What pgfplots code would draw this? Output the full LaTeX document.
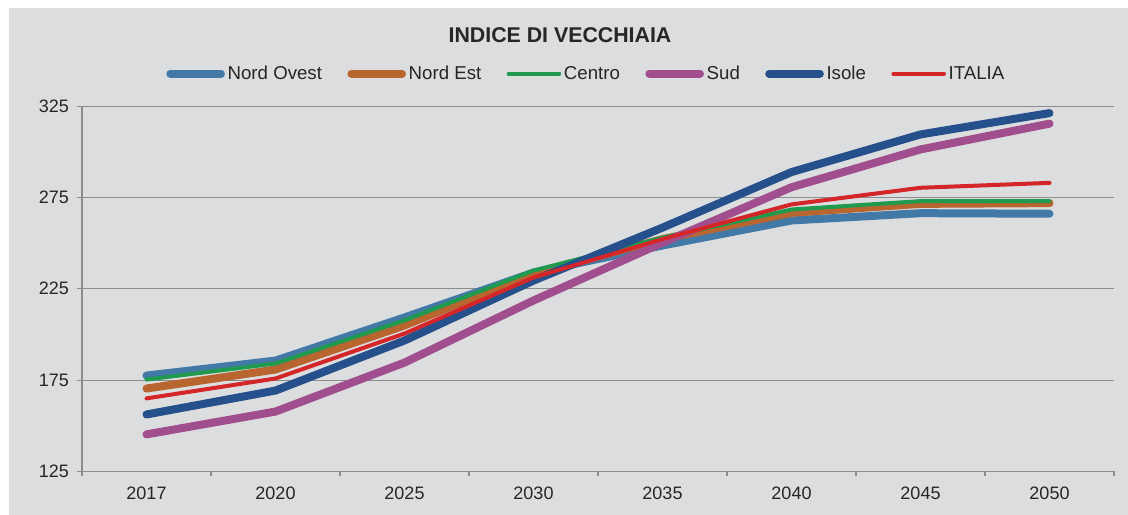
\documentclass[border=0pt]{standalone}
\usepackage{fontspec}
\setmainfont{Liberation Sans}
\usepackage{pgfplots}
\pgfplotsset{compat=1.18}
\definecolor{bg}{HTML}{DCDDDF}
\definecolor{gridc}{HTML}{8C8C8C}
\definecolor{nordovest}{HTML}{4379A6}
\definecolor{nordest}{HTML}{B9652F}
\definecolor{centro}{HTML}{1F9A4E}
\definecolor{sud}{HTML}{A14E8F}
\definecolor{isole}{HTML}{26508B}
\definecolor{italia}{HTML}{D42628}
\definecolor{txt}{HTML}{262626}
\begin{document}
\begin{tikzpicture}[x=1pt,y=1pt]
\fill[white] (-61.5,-32.6) rectangle (784.5,353.6);
\fill[bg] (-54.75,-32.6) rectangle (784.5,347.6);
\begin{axis}[
 at={(0,0)}, anchor=south west,
 scale only axis, width=774pt, height=274pt,
 xmin=-0.5, xmax=7.5, ymin=125, ymax=325,
 axis x line*=bottom, axis y line*=left,
 axis line style={gridc, line width=0.9pt},
 xtick={-0.5,0.5,...,7.5}, xticklabels={},
 extra x ticks={0,1,2,3,4,5,6,7},
 extra x tick labels={2017,2020,2025,2030,2035,2040,2045,2050},
 extra x tick style={major tick length=0pt, tick style={draw=none}, xticklabel style={yshift=-8pt}},
 tick align=outside,
 major tick length=3.75pt,
 ytick={125,175,225,275,325},
 yticklabel style={xshift=-2.5pt},
 ymajorgrids, grid style={gridc, line width=0.9pt},
 tick style={gridc, line width=0.9pt},
 ticklabel style={font=\fontsize{13.5}{16}\selectfont, text=txt},
 /pgf/number format/assume math mode=true,
 legend columns=6,
 legend style={at={(0.489,1.089)}, anchor=center, draw=none, fill=none,
   font=\fontsize{14}{16}\selectfont, text=txt,
   /tikz/every even column/.append style={column sep=17pt},
   nodes={inner sep=2pt}},
 legend image code/.code={\draw[#1,line cap=round] (0pt,0pt) -- (38pt,0pt);},
 every axis plot/.append style={line cap=round, line join=round},
]
\addplot[nordovest, line width=6pt] coordinates {(0,177.5)(1,185.7)(2,209.3)(3,233.9)(4,248.7)(5,262.4)(6,266.4)(7,266.1)};
\addlegendentry{Nord Ovest}
\addplot[nordest, line width=6pt] coordinates {(0,170.4)(1,180.8)(2,204.9)(3,233.4)(4,252.2)(5,266.6)(6,271.5)(7,271.9)};
\addlegendentry{Nord Est}
\addplot[centro, line width=3pt] coordinates {(0,175.3)(1,184.1)(2,207.7)(3,235.0)(4,253.0)(5,268.4)(6,273.0)(7,273.0)};
\addlegendentry{Centro}
\addplot[sud, line width=6pt] coordinates {(0,145.3)(1,157.8)(2,184.6)(3,218.6)(4,250.2)(5,280.6)(6,301.3)(7,315.4)};
\addlegendentry{Sud}
\addplot[isole, line width=6pt] coordinates {(0,156.2)(1,169.3)(2,196.7)(3,229.5)(4,258.5)(5,288.9)(6,309.5)(7,321.2)};
\addlegendentry{Isole}
\addplot[italia, line width=3pt] coordinates {(0,165.0)(1,175.9)(2,200.5)(3,231.2)(4,252.2)(5,271.2)(6,280.3)(7,283.0)};
\addlegendentry{ITALIA}
\end{axis}
\node[font=\bfseries\fontsize{16}{19}\selectfont, text=txt] at (358.5,327.5) {INDICE DI VECCHIAIA};
\end{tikzpicture}
\end{document}
